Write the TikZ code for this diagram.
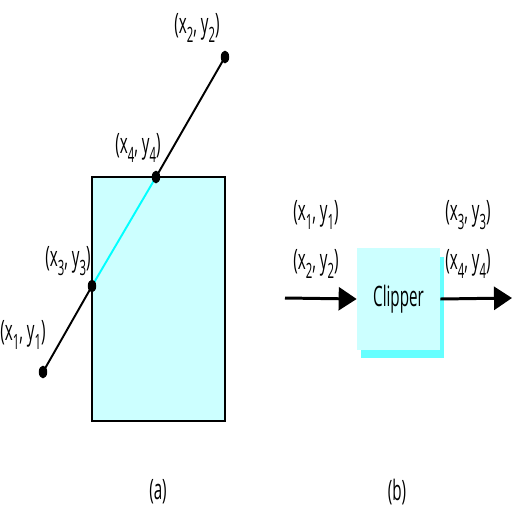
\documentclass[tikz,border=0pt]{standalone}
\usepackage{fontspec}
\setmainfont{Open Sans}[FakeStretch=0.54]
\usetikzlibrary{arrows.meta}
\definecolor{hellcyan}{HTML}{CCFFFF}
\definecolor{schattencyan}{HTML}{66FFFF}
\definecolor{linienCyan}{HTML}{00FFFF}
\newcommand{\tief}[1]{\raisebox{-0.32em}{\fontsize{12}{12}\selectfont #1}}
\newcommand{\koord}[1]{(x\tief{#1}, y\tief{#1})}
\begin{document}
\begin{tikzpicture}[x=0.02cm,y=-0.02cm,
    txt/.style={font=\fontsize{16}{18}\selectfont, inner sep=0pt},
    pfeil/.style={line width=1.7pt, -{Triangle[length=0.36cm,width=0.46cm]}}]
  \useasboundingbox (0,0) rectangle (512,512);
  % Punkte
  \coordinate (P1) at (43,372);
  \coordinate (P2) at (225,57);
  \coordinate (P3) at (92,286);
  \coordinate (P4) at (156,177);
  % Fenster
  \filldraw[fill=hellcyan, line width=1.2pt] (92,177) rectangle (225,421);
  % Linie
  \draw[line width=1.1pt] (P1) -- (P3);
  \draw[line width=1.1pt, linienCyan] (P3) -- (P4);
  \draw[line width=1.1pt] (P4) -- (P2);
  \foreach \i in {1,...,4} {
    \fill (P\i) ellipse [x radius=4.2, y radius=6.4];
  }
  % Beschriftungen
  \node[txt, anchor=west] (L1) at (0,335) {\koord{1}};
  \node[txt] (L2) at (197,28) {\koord{2}};
  \node[txt] (L3) at (68,261) {\koord{3}};
  \node[txt] (L4) at (138,148) {\koord{4}};
  \node[txt] (la) at (158,492) {(a)};
  % Clipper
  \fill[schattencyan] (361,257) rectangle (444,358);
  \node[fill=hellcyan, minimum width=83*0.02cm, minimum height=102*0.02cm,
    inner sep=0pt, font=\fontsize{16}{18}\selectfont] (clip) at (398.5,299) {Clipper};
  \coordinate (ein) at (285,298);
  \coordinate (aus) at (512,298);
  \draw[pfeil] (ein) -- (clip.west);
  \draw[pfeil] (clip.east) -- (aus);
  \node[txt] (E1) at (316,215) {\koord{1}};
  \node[txt] (E2) at (316,264) {\koord{2}};
  \node[txt] (A3) at (468,215) {\koord{3}};
  \node[txt] (A4) at (468,264) {\koord{4}};
  \node[txt] (lb) at (397,492) {(b)};
\end{tikzpicture}
\end{document}
